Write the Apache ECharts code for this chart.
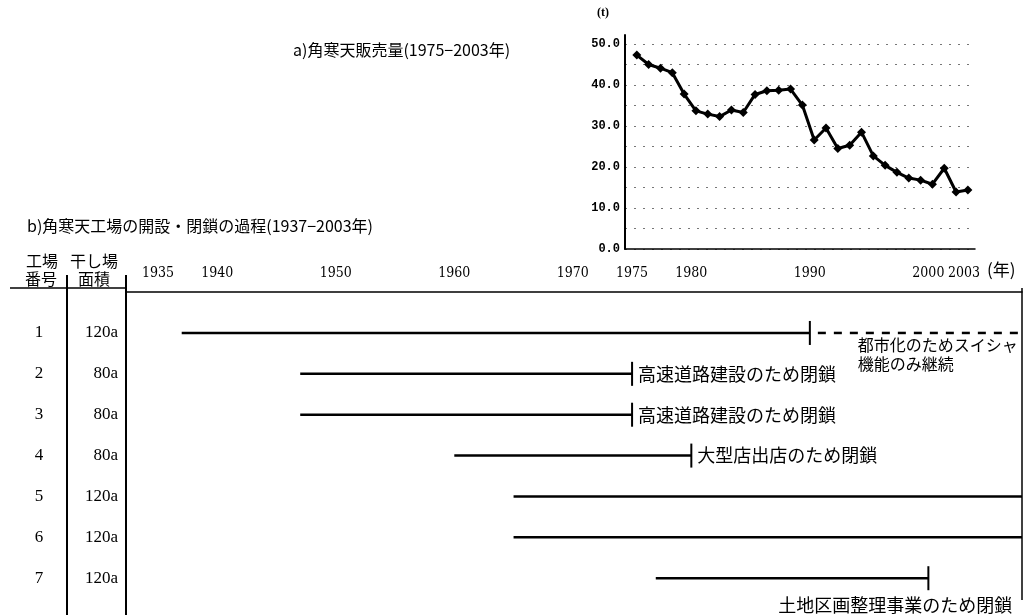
<!DOCTYPE html>
<html>
<head>
<meta charset="utf-8">
<script src="https://cdn.jsdelivr.net/npm/echarts@6/dist/echarts.min.js"></script>
<style>
  html, body { margin: 0; padding: 0; background: #fff; }
  #chart { width: 1027px; height: 615px; }
</style>
</head>
<body>
<div id="chart"></div>
<script>
// a) 角寒天販売量 (t), 1975-2003
var salesYears = [1975, 1976, 1977, 1978, 1979, 1980, 1981, 1982, 1983, 1984,
  1985, 1986, 1987, 1988, 1989, 1990, 1991, 1992, 1993, 1994,
  1995, 1996, 1997, 1998, 1999, 2000, 2001, 2002, 2003];
var salesTons = [47.3, 45.0, 44.1, 43.0, 37.8, 33.7, 32.9, 32.3, 33.9, 33.3,
  37.7, 38.6, 38.7, 39.0, 35.1, 26.6, 29.5, 24.5, 25.3, 28.5,
  22.7, 20.4, 18.7, 17.3, 16.8, 15.8, 19.7, 13.9, 14.4];

// b) 角寒天工場の開設・閉鎖 (1937-2003)
var factoryNo = [1, 2, 3, 4, 5, 6, 7];
var factoryArea = ['120a', '80a', '80a', '80a', '120a', '120a', '120a'];
var openYear = [1937, 1947, 1947, 1960, 1965, 1965, 1977];
var closeYear = [1990, 1975, 1975, 1980, null, null, 2000];
var waterwheelOnly = [true, false, false, false, false, false, false];
var closeNote = [
  '都市化のためスイシャ\n機能のみ継続',
  '高速道路建設のため閉鎖',
  '高速道路建設のため閉鎖',
  '大型店出店のため閉鎖',
  '', '',
  '土地区画整理事業のため閉鎖'
];
var yearTicks = [1935, 1940, 1950, 1960, 1970, 1975, 1980, 1990, 2000, 2003];

var X_MIN = 1932.3, X_MAX = 2007.9;
var JP = '"Noto Sans CJK JP", sans-serif';

// where each closing note sits relative to the end tick
var notePlace = {
  0: { dx: 48, dy: 2, align: 'left', verticalAlign: 'top', size: 16 },
  6: { dx: 84, dy: 27, align: 'right', verticalAlign: 'middle', size: 18 }
};

function renderFactory(params, api) {
  var i = params.dataIndex;
  var row = api.value(1);
  var start = api.coord([api.value(0), row]);
  var closed = closeYear[i] != null;
  var end = api.coord([closed ? closeYear[i] : X_MAX, row]);
  var kids = [{
    type: 'line',
    shape: { x1: start[0], y1: start[1], x2: end[0], y2: end[1] },
    style: { stroke: '#000', lineWidth: 2.5 }
  }];
  if (closed) {
    kids.push({
      type: 'line',
      shape: { x1: end[0], y1: end[1] - 12, x2: end[0], y2: end[1] + 12 },
      style: { stroke: '#000', lineWidth: 2 }
    });
  }
  if (waterwheelOnly[i]) {
    var far = api.coord([X_MAX, row]);
    kids.push({
      type: 'line',
      shape: { x1: end[0] + 8, y1: end[1], x2: far[0], y2: far[1] },
      style: { stroke: '#000', lineWidth: 2.5, lineDash: [8, 8] }
    });
  }
  if (closeNote[i]) {
    var p = notePlace[i] || { dx: 6, dy: 0, align: 'left', verticalAlign: 'middle', size: 18 };
    kids.push({
      type: 'text',
      style: {
        text: closeNote[i], x: end[0] + p.dx, y: end[1] + p.dy,
        align: p.align, verticalAlign: p.verticalAlign,
        fontSize: p.size, fontFamily: JP, lineHeight: 19, fill: '#000'
      }
    });
  }
  return { type: 'group', children: kids };
}

var chart = echarts.init(document.getElementById('chart'));

chart.setOption({
  backgroundColor: '#fff',
  animation: false,
  title: [
    { text: 'a)角寒天販売量(1975−2003年)', left: 288, top: 37,
      textStyle: { fontFamily: JP, fontSize: 16, fontWeight: 'normal', color: '#000' } },
    { text: 'b)角寒天工場の開設・閉鎖の過程(1937−2003年)', left: 22, top: 213,
      textStyle: { fontFamily: JP, fontSize: 16, fontWeight: 'normal', color: '#000' } }
  ],
  grid: [
    { left: 625, top: 35, width: 350, height: 214 },
    { left: 126, right: 5, top: 288, height: 330 }
  ],
  xAxis: [
    {
      gridIndex: 0, type: 'value', min: 1974, max: 2003.6,
      axisLine: { lineStyle: { color: '#000', width: 1.5 } },
      axisTick: { show: false }, axisLabel: { show: false }, splitLine: { show: false }
    },
    {
      gridIndex: 1, type: 'value', position: 'top', min: X_MIN, max: X_MAX,
      axisLine: { lineStyle: { color: '#000', width: 1.5 } },
      axisTick: { show: false }, splitLine: { show: false },
      axisLabel: {
        customValues: yearTicks, margin: 8, color: '#000', hideOverlap: false,
        fontFamily: '"DejaVu Serif Condensed", "DejaVu Serif", serif', fontSize: 14,
        formatter: function (v) { return String(v); }
      }
    }
  ],
  yAxis: [
    {
      gridIndex: 0, type: 'value', min: 0, max: 52.2, interval: 5,
      axisLine: { show: true, lineStyle: { color: '#000', width: 2 } },
      axisTick: { show: false },
      axisLabel: {
        margin: 5, color: '#000', fontFamily: '"Liberation Mono", monospace', fontWeight: 'bold', fontSize: 12,
        formatter: function (v) { return v % 10 === 0 ? v.toFixed(1) : ''; }
      },
      splitLine: { show: true, showMaxLine: false, lineStyle: { color: '#777', width: 1, type: [2, 7] } }
    },
    {
      gridIndex: 1, type: 'value', inverse: true, min: -0.1, max: 7.9,
      axisLine: { show: false }, axisTick: { show: false }, splitLine: { show: false },
      axisLabel: {
        customValues: factoryNo, margin: 8,
        formatter: function (v) { return '{n|' + factoryNo[v - 1] + '}{a|' + factoryArea[v - 1] + '}'; },
        rich: {
          n: { width: 58, align: 'center', fontFamily: '"Liberation Serif", serif', fontSize: 17, color: '#000' },
          a: { width: 50, align: 'right', fontFamily: '"Liberation Serif", serif', fontSize: 17, color: '#000' }
        }
      }
    }
  ],
  series: [
    {
      type: 'line', xAxisIndex: 0, yAxisIndex: 0,
      data: salesYears.map(function (y, i) { return [y, salesTons[i]]; }),
      symbol: 'diamond', symbolSize: 9,
      itemStyle: { color: '#000' },
      lineStyle: { color: '#000', width: 3 }
    },
    {
      type: 'custom', xAxisIndex: 1, yAxisIndex: 1, clip: false,
      renderItem: renderFactory,
      encode: { x: 0, y: 1 },
      data: factoryNo.map(function (n, i) { return [openYear[i], n]; })
    }
  ],
  graphic: [
    { type: 'line', shape: { x1: 10, y1: 288, x2: 126, y2: 288 }, style: { stroke: '#000', lineWidth: 1.5 } },
    { type: 'line', shape: { x1: 67, y1: 275, x2: 67, y2: 615 }, style: { stroke: '#000', lineWidth: 2 } },
    { type: 'line', shape: { x1: 126, y1: 275, x2: 126, y2: 615 }, style: { stroke: '#000', lineWidth: 2 } },
    { type: 'line', shape: { x1: 1022, y1: 288, x2: 1022, y2: 600 }, style: { stroke: '#000', lineWidth: 1.5 } },
    { type: 'text', left: 26, top: 253, style: { text: '工場', fontFamily: JP, fontSize: 16, fill: '#000' } },
    { type: 'text', left: 70, top: 253, style: { text: '干し場', fontFamily: JP, fontSize: 16, fill: '#000' } },
    { type: 'text', left: 25, top: 271, style: { text: '番号', fontFamily: JP, fontSize: 16, fill: '#000' } },
    { type: 'text', left: 78, top: 271, style: { text: '面積', fontFamily: JP, fontSize: 16, fill: '#000' } },
    { type: 'text', left: 597, top: 7, style: { text: '(t)', fontFamily: '"Liberation Serif", serif', fontWeight: 'bold', fontSize: 12, fill: '#000' } },
    { type: 'text', left: 987, top: 261, style: { text: '(年)', fontFamily: JP, fontSize: 17, fill: '#000' } }
  ]
});
</script>
</body>
</html>
